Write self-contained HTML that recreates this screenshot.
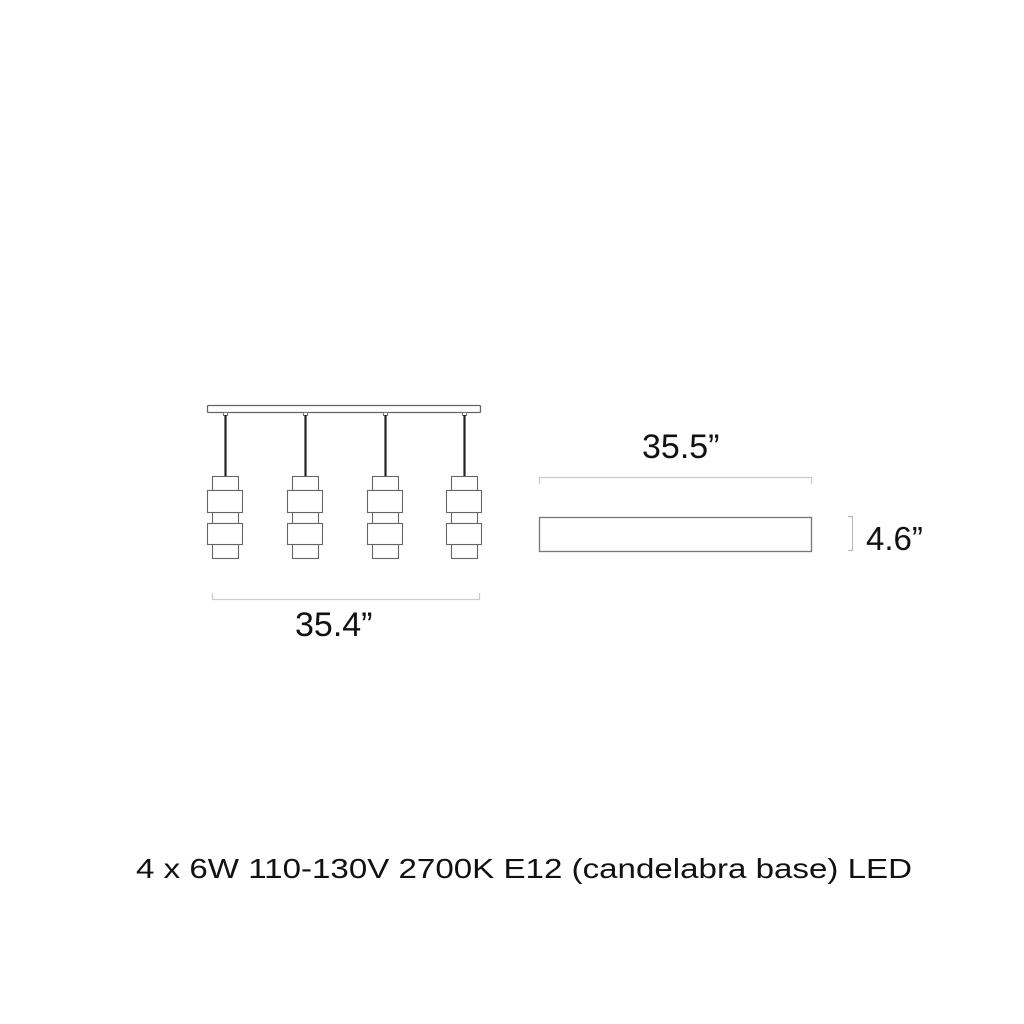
<!DOCTYPE html>
<html><head><meta charset="utf-8"><style>
html,body{margin:0;padding:0;background:#fff;width:1024px;height:1024px;overflow:hidden}
svg{display:block}
text{font-family:"Liberation Sans",Arial,sans-serif;fill:#111}
</style></head><body>
<svg width="1024" height="1024" viewBox="0 0 1024 1024" xmlns="http://www.w3.org/2000/svg">
<rect width="1024" height="1024" fill="#fff"/>
<!-- canopy -->
<rect x="207.5" y="405.5" width="273" height="7" rx="1" fill="#fff" stroke="#666" stroke-width="1.3"/>
<g id="p">
  <rect x="223.5" y="412.5" width="4" height="3" fill="#fff" stroke="#777" stroke-width="1"/>
  <line x1="225.5" y1="415" x2="225.5" y2="476" stroke="#222" stroke-width="2.2"/>
  <g fill="#fff" stroke="#666" stroke-width="1.1">
    <rect x="212.5" y="476.5" width="26" height="14"/>
    <rect x="212.5" y="512.5" width="26" height="11"/>
    <rect x="212.5" y="544.5" width="26" height="14"/>
    <rect x="207.5" y="490.5" width="35" height="22"/>
    <rect x="207.5" y="523.5" width="35" height="21"/>
  </g>
</g>
<use href="#p" x="80"/>
<use href="#p" x="160"/>
<use href="#p" x="239"/>
<!-- dim line left -->
<path d="M212.5 593 V599.5 H479.5 V593" fill="none" stroke="#ccc" stroke-width="1.3"/>
<text x="295" y="636" font-size="34">35.4”</text>
<!-- right -->
<text x="642" y="458" font-size="34">35.5”</text>
<path d="M539.5 484 V477.5 H811.5 V484" fill="none" stroke="#ccc" stroke-width="1.3"/>
<rect x="539.5" y="517.5" width="272" height="34" fill="#fff" stroke="#777" stroke-width="1.3"/>
<path d="M848 516.5 H852.5 V550.5 H848" fill="none" stroke="#bbb" stroke-width="1.2"/>
<text x="866" y="550" font-size="33">4.6”</text>
<text x="136" y="878" font-size="28" textLength="776" lengthAdjust="spacingAndGlyphs">4 x 6W 110-130V 2700K E12 (candelabra base) LED</text>
</svg>
</body></html>
